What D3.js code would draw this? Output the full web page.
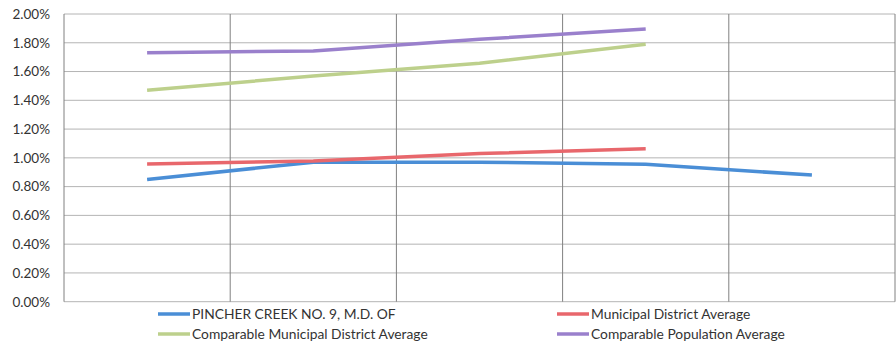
<!DOCTYPE html>
<html><head><meta charset="utf-8">
<script src="https://cdn.jsdelivr.net/npm/d3@7"></script>
<style>body{margin:0;background:#fff;}svg{display:block;}</style>
</head><body>
<svg id="c" width="896" height="343"></svg>
<script>
const categories = ["1","2","3","4","5"];
const pincher = [0.0085, 0.0097, 0.0097, 0.00955, 0.0088];
const mdAvg = [0.00957, 0.00978, 0.0103, 0.01064, null];
const compMd = [0.0147, 0.01569, 0.01657, 0.01789, null];
const compPop = [0.01731, 0.01743, 0.01824, 0.01896, null];
const yTicks = [0,0.002,0.004,0.006,0.008,0.010,0.012,0.014,0.016,0.018,0.020];
const seriesNames = ["PINCHER CREEK NO. 9, M.D. OF","Municipal District Average","Comparable Municipal District Average","Comparable Population Average"];
const colors = ["#4a8ed6","#e8676c","#bdd08c","#9a80cc"];

const series = [pincher, mdAvg, compMd, compPop].map((v,i)=>({name:seriesNames[i],color:colors[i],values:v}));

const svg = d3.select("#c");
const L=64, R=895, T=14, B=301.7;
const x = d3.scaleBand().domain(categories).range([L,R]);
const y = d3.scaleLinear().domain([0,0.02]).range([B,T]);
const fmt = d3.format(".2%");

// horizontal grid
svg.append("g").selectAll("line").data(yTicks).join("line")
  .attr("x1",L).attr("x2",R).attr("y1",d=>y(d)).attr("y2",d=>y(d))
  .attr("stroke","#b4b4b4").attr("stroke-width",1);
// vertical grid (category boundaries)
const bounds = categories.map(c=>x(c)).concat([x(categories[categories.length-1])+x.bandwidth()]);
svg.append("g").selectAll("line").data(bounds).join("line")
  .attr("x1",d=>d).attr("x2",d=>d).attr("y1",T).attr("y2",B)
  .attr("stroke","#808080").attr("stroke-width",1);

// y axis labels
const yAxis = d3.axisLeft(y).tickValues(yTicks).tickFormat(fmt).tickSize(0).tickPadding(14);
const ga = svg.append("g").attr("transform",`translate(${L},0)`).call(yAxis);
ga.select(".domain").remove();
ga.selectAll("text").attr("font-family","Lato, 'Open Sans', sans-serif").attr("font-size","13.5px").attr("fill","#333");

// lines
const line = d3.line().defined(d=>d.v!=null).x(d=>x(d.c)+x.bandwidth()/2).y(d=>y(d.v));
svg.append("g").selectAll("path").data(series).join("path")
  .attr("d",s=>line(s.values.map((v,i)=>({c:categories[i],v}))))
  .attr("fill","none").attr("stroke",s=>s.color).attr("stroke-width",3.5)
  .attr("stroke-linejoin","round");

// legend
const legPos = [[158,314],[557,314],[158,334],[557,334]];
const lg = svg.append("g").selectAll("g").data(series).join("g")
  .attr("transform",(s,i)=>`translate(${legPos[i][0]},${legPos[i][1]})`);
lg.append("line").attr("x1",0).attr("x2",32).attr("y1",0).attr("y2",0)
  .attr("stroke",s=>s.color).attr("stroke-width",3.5);
lg.append("text").attr("x",34).attr("y",0).attr("dy","0.35em")
  .attr("font-family","Lato, 'Open Sans', sans-serif").attr("font-size","13.8px").attr("fill","#333")
  .text(s=>s.name);
</script>
</body></html>
